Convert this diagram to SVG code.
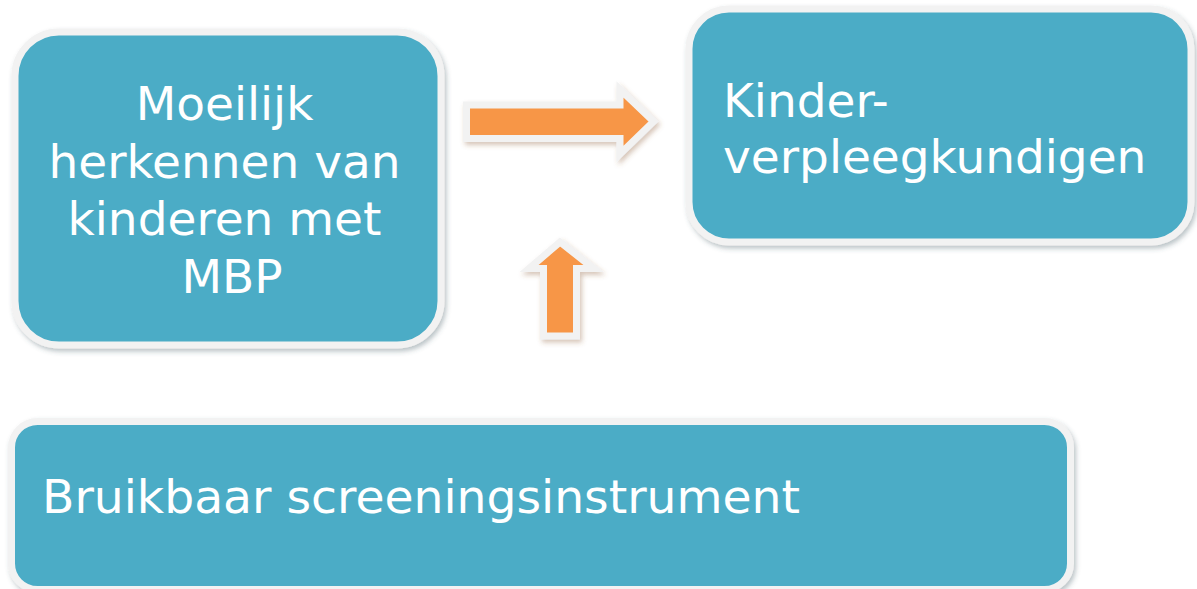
<svg xmlns="http://www.w3.org/2000/svg" width="1197" height="589" viewBox="0 0 1197 589">
  <style>
    .box { fill: #4BACC6; stroke: #F2F2F2; stroke-width: 7; filter: url(#boxShadow); }
    .arrow { fill: #F79646; stroke: #F2F2F2; stroke-width: 7; stroke-linejoin: miter; filter: url(#arrowShadow); }
    .label { fill: #FFFFFF; font-family: "DejaVu Sans", Verdana, sans-serif; font-size: 47px; }
  </style>
  <defs>
    <filter id="boxShadow" x="-5%" y="-5%" width="115%" height="120%">
      <feDropShadow dx="2" dy="3" stdDeviation="2.5" flood-color="#3a5560" flood-opacity="0.35"/>
    </filter>
    <filter id="arrowShadow" x="-20%" y="-20%" width="150%" height="150%">
      <feDropShadow dx="2" dy="3" stdDeviation="2.5" flood-color="#8a5a35" flood-opacity="0.35"/>
    </filter>
  </defs>

  <rect width="1197" height="589" fill="#FFFFFF"/>

  <g id="connectors">
    <!-- right-pointing block arrow -->
    <polygon class="arrow" points="466.5,105 620,105 620,89.5 653.5,121.5 620,154 620,138.5 466.5,138.5"/>
    <!-- upward block arrow -->
    <polygon class="arrow" points="543.5,336 543.5,268.5 529,268.5 560,242 593.5,268.5 576.5,268.5 576.5,336"/>
  </g>

  <g id="node-moeilijk">
    <rect class="box" x="15" y="32" width="426" height="313" rx="44"/>
    <text class="label" text-anchor="middle">
      <tspan x="232" y="120">Moeilijk</tspan>
      <tspan x="232" y="178">herkennen van</tspan>
      <tspan x="232" y="235">kinderen met</tspan>
      <tspan x="232" y="293">MBP</tspan>
    </text>
  </g>

  <g id="node-kinderverpleegkundigen">
    <rect class="box" x="689" y="9" width="502" height="233" rx="40"/>
    <text class="label">
      <tspan x="723" y="117">Kinder-</tspan>
      <tspan x="723" y="173">verpleegkundigen</tspan>
    </text>
  </g>

  <g id="node-screeningsinstrument">
    <rect class="box" x="11.5" y="421.5" width="1059" height="168" rx="26"/>
    <text class="label" x="42" y="513" textLength="758" lengthAdjust="spacingAndGlyphs">Bruikbaar screeningsinstrument</text>
  </g>
</svg>
